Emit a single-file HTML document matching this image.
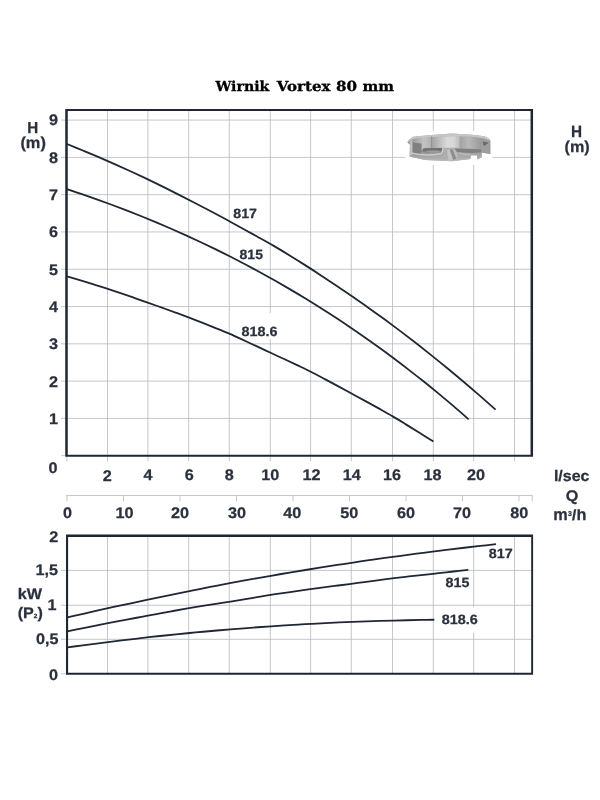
<!DOCTYPE html>
<html><head><meta charset="utf-8"><title>Wirnik Vortex 80 mm</title>
<style>html,body{margin:0;padding:0;background:#fff}svg{display:block}</style></head>
<body><svg width="600" height="800" viewBox="0 0 600 800">
<rect width="600" height="800" fill="#fff"/>
<path d="M107.50,110.2V461.40 M147.90,110.2V461.40 M188.70,110.2V461.40 M229.30,110.2V461.40 M270.30,110.2V461.40 M310.60,110.2V461.40 M351.30,110.2V461.40 M392.50,110.2V461.40 M433.30,110.2V461.40 M473.70,110.2V461.40 M514.50,110.2V461.40 M61.00,418.41H532.2 M61.00,381.12H532.2 M61.00,343.83H532.2 M61.00,306.54H532.2 M61.00,269.25H532.2 M61.00,231.96H532.2 M61.00,194.67H532.2 M61.00,157.38H532.2 M61.00,120.09H532.2 M66.80,455.6V461.40 M61.00,455.60H66.6 M107.50,535.6V673.8 M147.90,535.6V673.8 M188.70,535.6V673.8 M229.30,535.6V673.8 M270.30,535.6V673.8 M310.60,535.6V673.8 M351.30,535.6V673.8 M392.50,535.6V673.8 M433.30,535.6V673.8 M473.70,535.6V673.8 M514.50,535.6V673.8 M61.00,639.30H532.2 M61.00,605.30H532.2 M61.00,570.40H532.2 M61.00,673.80H66.6 M66.30,495.5H532.60 M67.00,495.4V501.3 M123.50,495.4V501.3 M180.00,495.4V501.3 M236.50,495.4V501.3 M293.00,495.4V501.3 M349.50,495.4V501.3 M406.00,495.4V501.3 M462.50,495.4V501.3 M519.00,495.4V501.3 M532.20,495.4V501.3" fill="none" stroke="#b6b9bf" stroke-width="0.8"/>
<rect x="240" y="313" width="39.5" height="26" fill="#fff"/>
<rect x="440" y="607.5" width="39.5" height="25" fill="#fff"/>
<rect x="405.5" y="130.8" width="87" height="34.2" fill="#fff"/>
<defs>
<linearGradient id="gBase" x1="0" y1="0" x2="1" y2="0"><stop offset="0" stop-color="#9a9a9a"/><stop offset="0.5" stop-color="#b0b0b0"/><stop offset="1" stop-color="#9c9c9c"/></linearGradient>
<linearGradient id="gP1" x1="0" y1="0" x2="1" y2="0"><stop offset="0" stop-color="#9c9c9c"/><stop offset="0.6" stop-color="#c4c4c4"/><stop offset="1" stop-color="#b2b2b2"/></linearGradient>
<linearGradient id="gP2" x1="0" y1="0" x2="1" y2="0"><stop offset="0" stop-color="#a2a2a2"/><stop offset="0.55" stop-color="#dadada"/><stop offset="0.8" stop-color="#d6d6d6"/><stop offset="1" stop-color="#bcbcbc"/></linearGradient>
<linearGradient id="gP3" x1="0" y1="0" x2="1" y2="0"><stop offset="0" stop-color="#a4a4a4"/><stop offset="0.4" stop-color="#b9b9b9"/><stop offset="1" stop-color="#999"/></linearGradient>
<linearGradient id="gRec" x1="0" y1="0" x2="0" y2="1"><stop offset="0" stop-color="#666"/><stop offset="1" stop-color="#8e8e8e"/></linearGradient>
<linearGradient id="gBot" x1="0" y1="0" x2="0" y2="1"><stop offset="0" stop-color="#a2a2a2"/><stop offset="1" stop-color="#bdbdbd"/></linearGradient>
<filter id="fBl" x="-5%" y="-10%" width="110%" height="120%"><feGaussianBlur stdDeviation="0.35"/></filter>
</defs>
<g filter="url(#fBl)">
<path d="M408.25,140.50 L412.83,136.75 L431.17,135.08 L452.00,133.42 L472.00,134.67 L484.50,136.33 L489.92,139.25 L490.50,141.33 L490.33,154.00 L481.83,152.67 L481.58,157.17 L477.42,159.25 L477.00,155.50 L471.17,155.50 L470.33,159.00 L452.00,161.33 L447.00,160.92 L425.33,160.08 L410.33,156.75 L409.50,156.33 L409.92,144.67 L407.42,142.58Z" fill="url(#gBase)"/>
<path d="M408.25,140.50 L412.83,136.75 L431.17,135.08 L452.00,133.42 L472.00,134.67 L484.50,136.33 L489.92,139.25 L489.92,140.67 L484.50,138.42 L472.00,136.83 L452.00,136.17 L431.17,137.17 L412.83,139.00 L408.67,142.00Z" fill="#c6c6c6"/>
<path d="M410.17,141.75 L412.42,139.67 L412.42,155.08 L410.17,155.92Z" fill="#c2c2c2"/>
<path d="M412.67,142.33 L421.67,143.50 L421.67,152.33 L419.92,153.42 L412.67,154.00Z" fill="#808080"/>
<path d="M412.83,139.00 L431.17,137.17 L431.17,148.00 L423.83,148.50 L421.67,150.50 L421.67,143.50 L412.83,142.33Z" fill="url(#gP1)"/>
<path d="M431.08,136.33 L431.75,136.33 L431.75,148.00 L431.08,148.00Z" fill="#858585"/>
<path d="M431.83,137.17 L452.00,136.17 L459.50,136.33 L459.50,147.67 L447.00,147.67 L431.83,147.83Z" fill="url(#gP2)"/>
<path d="M460.00,136.83 L472.00,137.00 L481.17,138.50 L481.17,149.00 L460.00,148.50Z" fill="url(#gP3)"/>
<path d="M481.17,138.50 L489.92,140.67 L490.33,154.00 L481.58,152.33Z" fill="#9d9d9d"/>
<path d="M482.83,141.58 L488.83,142.83 L483.67,146.33Z" fill="#6a6a6a"/>
<path d="M423.83,148.25 L441.83,148.00 Q443.00,150.92 441.17,153.00 Q432.00,154.50 422.42,152.17 Q421.58,149.83 423.83,148.25Z" fill="url(#gRec)"/>
<ellipse cx="433.25" cy="151.67" rx="7.08" ry="1.17" fill="#9c9c9c"/>
<path d="M411.17,152.83 Q427.00,157.17 440.75,153.42 Q443.25,151.75 442.83,148.42" fill="none" stroke="#cfcfcf" stroke-width="1.3"/>
<path d="M409.92,155.67 L425.33,157.33 L452.00,157.83 L470.33,156.75 L470.33,159.00 L452.00,161.33 L447.00,160.92 L425.33,160.08 L410.33,156.75Z" fill="url(#gBot)"/>
<path d="M454.92,148.50 L481.17,149.17 L481.17,152.33 L472.00,153.00 L455.33,152.17Z" fill="#808080"/>
<path d="M458.67,152.67 Q464.50,155.08 471.17,154.83" fill="none" stroke="#b9b9b9" stroke-width="1.4"/>
<path d="M447.00,150.33 L449.50,149.83 L452.83,159.67 L448.67,160.50Z" fill="#c4c4c4"/>
<path d="M449.92,149.83 L452.83,149.83 L456.17,159.00 L453.25,159.67Z" fill="#8c8c8c"/>
<path d="M453.25,149.83 L455.33,149.67 L457.42,153.00 L457.00,158.83Z" fill="#bdbdbd"/>
<path d="M477.00,154.50 L481.58,153.00 L481.58,157.17 L477.42,159.25Z" fill="#a9a9a9"/>
</g>
<path d="M67.00,144.02C69.65,145.10 77.58,148.31 82.87,150.51C88.17,152.71 93.46,154.93 98.75,157.19C104.04,159.46 109.33,161.76 114.62,164.11C119.91,166.46 125.20,168.85 130.50,171.28C135.79,173.71 141.08,176.15 146.37,178.66C151.66,181.18 156.95,183.76 162.24,186.37C167.54,188.99 172.83,191.65 178.12,194.33C183.41,197.01 188.70,199.74 193.99,202.47C199.28,205.21 204.58,207.96 209.87,210.76C215.16,213.57 220.45,216.44 225.74,219.30C231.03,222.17 236.32,225.06 241.61,227.96C246.91,230.86 252.20,233.76 257.49,236.70C262.78,239.64 268.07,242.54 273.36,245.63C278.65,248.72 283.95,251.98 289.24,255.23C294.53,258.48 299.82,261.77 305.11,265.13C310.40,268.48 315.69,271.90 320.99,275.38C326.28,278.85 331.57,282.39 336.86,285.97C342.15,289.54 347.44,293.19 352.73,296.85C358.02,300.51 363.32,304.17 368.61,307.92C373.90,311.67 379.19,315.47 384.48,319.33C389.77,323.20 395.06,327.13 400.36,331.12C405.65,335.12 410.94,339.18 416.23,343.30C421.52,347.42 426.81,351.60 432.10,355.84C437.40,360.08 442.69,364.37 447.98,368.74C453.27,373.10 458.56,377.52 463.85,382.01C469.14,386.50 474.43,391.05 479.73,395.66C485.02,400.28 492.95,407.36 495.60,409.70" fill="none" stroke="#1f2733" stroke-width="1.8" stroke-linecap="butt"/>
<path d="M67.00,189.14C69.48,189.97 76.92,192.44 81.88,194.14C86.84,195.84 91.80,197.57 96.76,199.34C101.71,201.11 106.67,202.91 111.63,204.76C116.59,206.60 121.55,208.48 126.51,210.40C131.47,212.32 136.43,214.28 141.39,216.27C146.35,218.27 151.31,220.31 156.27,222.38C161.23,224.46 166.19,226.58 171.14,228.74C176.10,230.90 181.06,233.11 186.02,235.35C190.98,237.60 195.94,239.89 200.90,242.23C205.86,244.56 210.82,246.94 215.78,249.37C220.74,251.79 225.70,254.27 230.66,256.79C235.61,259.31 240.57,261.87 245.53,264.49C250.49,267.10 255.45,269.77 260.41,272.48C265.37,275.20 270.33,277.96 275.29,280.77C280.25,283.59 285.21,286.45 290.17,289.37C295.13,292.29 300.09,295.26 305.04,298.29C310.00,301.31 314.96,304.39 319.92,307.52C324.88,310.66 329.84,313.84 334.80,317.09C339.76,320.33 344.72,323.63 349.68,326.99C354.64,330.35 359.60,333.76 364.56,337.24C369.51,340.71 374.47,344.24 379.43,347.84C384.39,351.43 389.35,355.08 394.31,358.79C399.27,362.51 404.23,366.28 409.19,370.12C414.15,373.96 419.11,377.86 424.07,381.82C429.03,385.79 433.99,389.80 438.94,393.90C443.90,398.01 448.86,402.18 453.82,406.42C458.78,410.66 466.22,417.19 468.70,419.35" fill="none" stroke="#1f2733" stroke-width="1.8" stroke-linecap="butt"/>
<path d="M67.00,276.37C69.26,277.04 76.05,279.01 80.57,280.38C85.09,281.74 89.62,283.13 94.14,284.55C98.66,285.97 103.19,287.42 107.71,288.89C112.23,290.37 116.76,291.87 121.28,293.40C125.80,294.93 130.33,296.49 134.85,298.07C139.38,299.66 143.90,301.32 148.42,302.92C152.95,304.52 157.47,306.06 161.99,307.66C166.52,309.26 171.04,310.88 175.56,312.54C180.09,314.19 184.61,315.86 189.13,317.58C193.66,319.30 198.18,321.08 202.70,322.87C207.23,324.66 211.75,326.48 216.27,328.33C220.80,330.17 225.32,331.99 229.84,333.95C234.37,335.91 238.89,338.03 243.41,340.10C247.94,342.18 252.46,344.27 256.99,346.39C261.51,348.51 266.03,350.70 270.56,352.81C275.08,354.92 279.60,356.94 284.13,359.04C288.65,361.14 293.17,363.26 297.70,365.42C302.22,367.58 306.74,369.70 311.27,371.98C315.79,374.26 320.31,376.70 324.84,379.10C329.36,381.50 333.88,383.94 338.41,386.39C342.93,388.84 347.45,391.34 351.98,393.80C356.50,396.26 361.02,398.67 365.55,401.15C370.07,403.62 374.60,406.12 379.12,408.66C383.64,411.19 388.17,413.69 392.69,416.35C397.21,419.01 401.74,421.83 406.26,424.61C410.78,427.39 415.31,430.19 419.83,433.02C424.35,435.86 431.14,440.18 433.40,441.61" fill="none" stroke="#1f2733" stroke-width="1.8" stroke-linecap="butt"/>
<path d="M67.30,617.46C69.95,616.85 77.89,615.01 83.18,613.80C88.47,612.60 93.76,611.40 99.06,610.22C104.35,609.04 109.64,607.87 114.93,606.72C120.23,605.56 125.52,604.42 130.81,603.29C136.10,602.16 141.40,601.05 146.69,599.94C151.98,598.82 157.27,597.70 162.57,596.60C167.86,595.49 173.15,594.40 178.44,593.32C183.74,592.23 189.03,591.17 194.32,590.11C199.61,589.05 204.91,588.01 210.20,586.98C215.49,585.95 220.79,584.93 226.08,583.93C231.37,582.92 236.66,581.92 241.96,580.94C247.25,579.97 252.54,579.01 257.83,578.07C263.13,577.13 268.42,576.21 273.71,575.30C279.00,574.39 284.30,573.49 289.59,572.61C294.88,571.72 300.17,570.85 305.47,569.99C310.76,569.13 316.05,568.28 321.34,567.44C326.64,566.60 331.93,565.78 337.22,564.97C342.51,564.15 347.81,563.35 353.10,562.56C358.39,561.78 363.69,561.00 368.98,560.23C374.27,559.47 379.56,558.72 384.86,557.98C390.15,557.24 395.44,556.51 400.73,555.79C406.03,555.08 411.32,554.37 416.61,553.68C421.90,552.99 427.20,552.30 432.49,551.64C437.78,550.97 443.07,550.31 448.37,549.66C453.66,549.02 458.95,548.38 464.24,547.76C469.54,547.14 474.83,546.53 480.12,545.93C485.41,545.33 493.35,544.46 496.00,544.17" fill="none" stroke="#1f2733" stroke-width="1.8" stroke-linecap="butt"/>
<path d="M67.30,631.44C69.78,630.92 77.20,629.33 82.15,628.30C87.10,627.27 92.05,626.25 97.00,625.26C101.95,624.26 106.90,623.28 111.86,622.33C116.81,621.38 121.76,620.46 126.71,619.55C131.66,618.63 136.61,617.75 141.56,616.85C146.51,615.94 151.46,615.04 156.41,614.12C161.36,613.20 166.31,612.25 171.26,611.34C176.21,610.42 181.16,609.49 186.11,608.63C191.07,607.77 196.02,606.97 200.97,606.17C205.92,605.37 210.87,604.60 215.82,603.83C220.77,603.06 225.72,602.34 230.67,601.55C235.62,600.77 240.57,599.92 245.52,599.10C250.47,598.28 255.42,597.43 260.37,596.62C265.32,595.81 270.28,594.99 275.23,594.23C280.18,593.47 285.13,592.77 290.08,592.05C295.03,591.34 299.98,590.63 304.93,589.94C309.88,589.25 314.83,588.57 319.78,587.91C324.73,587.25 329.68,586.60 334.63,585.96C339.58,585.32 344.53,584.72 349.49,584.07C354.44,583.41 359.39,582.70 364.34,582.03C369.29,581.36 374.24,580.69 379.19,580.04C384.14,579.39 389.09,578.72 394.04,578.12C398.99,577.52 403.94,576.99 408.89,576.44C413.84,575.89 418.79,575.36 423.74,574.82C428.70,574.28 433.65,573.75 438.60,573.19C443.55,572.64 448.50,572.05 453.45,571.50C458.40,570.94 465.82,570.13 468.30,569.85" fill="none" stroke="#1f2733" stroke-width="1.8" stroke-linecap="butt"/>
<path d="M67.30,647.44C69.57,647.13 76.36,646.19 80.89,645.58C85.42,644.97 89.95,644.37 94.49,643.78C99.02,643.19 103.55,642.61 108.08,642.04C112.61,641.48 117.14,640.92 121.67,640.37C126.20,639.83 130.73,639.29 135.26,638.77C139.79,638.25 144.32,637.73 148.86,637.23C153.39,636.73 157.92,636.24 162.45,635.76C166.98,635.28 171.51,634.81 176.04,634.35C180.57,633.89 185.10,633.44 189.63,633.01C194.16,632.57 198.70,632.14 203.23,631.73C207.76,631.31 212.29,630.91 216.82,630.51C221.35,630.12 225.88,629.74 230.41,629.36C234.94,628.99 239.47,628.63 244.00,628.28C248.53,627.93 253.07,627.59 257.60,627.26C262.13,626.93 266.66,626.61 271.19,626.30C275.72,625.99 280.25,625.69 284.78,625.41C289.31,625.12 293.84,624.84 298.37,624.58C302.90,624.31 307.44,624.06 311.97,623.81C316.50,623.57 321.03,623.33 325.56,623.11C330.09,622.89 334.62,622.68 339.15,622.47C343.68,622.27 348.21,622.08 352.74,621.90C357.28,621.72 361.81,621.55 366.34,621.39C370.87,621.23 375.40,621.08 379.93,620.94C384.46,620.80 388.99,620.67 393.52,620.55C398.05,620.44 402.58,620.33 407.11,620.23C411.65,620.13 416.18,620.05 420.71,619.97C425.24,619.89 432.03,619.81 434.30,619.77" fill="none" stroke="#1f2733" stroke-width="1.8" stroke-linecap="butt"/>
<path fill-rule="evenodd" fill="#1f2733" d="M65.25,109.0H533.05V456.85H65.25Z M67.75,111.0H530.55V454.85H67.75Z"/>
<path fill-rule="evenodd" fill="#1f2733" d="M66.0,534.5H533.1V674.85H66.0Z M68.1,536.9H531.2V672.75H68.1Z"/>
<text transform="translate(215.44,90.80) scale(1.0266,1)" font-family='"DejaVu Serif","Liberation Serif",serif' font-weight="bold" font-size="13.80" fill="#000" stroke="#000" stroke-width="0.3" text-rendering="geometricPrecision">Wirnik</text>
<text transform="translate(276.78,90.80) scale(1.0882,1)" font-family='"DejaVu Serif","Liberation Serif",serif' font-weight="bold" font-size="13.80" fill="#000" stroke="#000" stroke-width="0.3" text-rendering="geometricPrecision">Vortex</text>
<text transform="translate(335.90,90.80) scale(1.0989,1)" font-family='"DejaVu Serif","Liberation Serif",serif' font-weight="bold" font-size="13.80" fill="#000" stroke="#000" stroke-width="0.3" text-rendering="geometricPrecision">80</text>
<text transform="translate(362.38,90.80) scale(1.0812,1)" font-family='"DejaVu Serif","Liberation Serif",serif' font-weight="bold" font-size="13.80" fill="#000" stroke="#000" stroke-width="0.3" text-rendering="geometricPrecision">mm</text>
<text transform="translate(48.90,423.94) scale(1.0600,1)" font-family='"Liberation Sans",sans-serif' font-weight="bold" font-size="15.30" fill="#2a303c" stroke="#2a303c" stroke-width="0.25" text-rendering="geometricPrecision">1</text>
<text transform="translate(48.90,386.61) scale(1.0600,1)" font-family='"Liberation Sans",sans-serif' font-weight="bold" font-size="15.30" fill="#2a303c" stroke="#2a303c" stroke-width="0.25" text-rendering="geometricPrecision">2</text>
<text transform="translate(48.90,349.28) scale(1.0600,1)" font-family='"Liberation Sans",sans-serif' font-weight="bold" font-size="15.30" fill="#2a303c" stroke="#2a303c" stroke-width="0.25" text-rendering="geometricPrecision">3</text>
<text transform="translate(48.90,311.95) scale(1.0600,1)" font-family='"Liberation Sans",sans-serif' font-weight="bold" font-size="15.30" fill="#2a303c" stroke="#2a303c" stroke-width="0.25" text-rendering="geometricPrecision">4</text>
<text transform="translate(48.90,274.62) scale(1.0600,1)" font-family='"Liberation Sans",sans-serif' font-weight="bold" font-size="15.30" fill="#2a303c" stroke="#2a303c" stroke-width="0.25" text-rendering="geometricPrecision">5</text>
<text transform="translate(48.90,237.29) scale(1.0600,1)" font-family='"Liberation Sans",sans-serif' font-weight="bold" font-size="15.30" fill="#2a303c" stroke="#2a303c" stroke-width="0.25" text-rendering="geometricPrecision">6</text>
<text transform="translate(48.90,199.96) scale(1.0600,1)" font-family='"Liberation Sans",sans-serif' font-weight="bold" font-size="15.30" fill="#2a303c" stroke="#2a303c" stroke-width="0.25" text-rendering="geometricPrecision">7</text>
<text transform="translate(48.90,162.63) scale(1.0600,1)" font-family='"Liberation Sans",sans-serif' font-weight="bold" font-size="15.30" fill="#2a303c" stroke="#2a303c" stroke-width="0.25" text-rendering="geometricPrecision">8</text>
<text transform="translate(48.90,125.30) scale(1.0600,1)" font-family='"Liberation Sans",sans-serif' font-weight="bold" font-size="15.30" fill="#2a303c" stroke="#2a303c" stroke-width="0.25" text-rendering="geometricPrecision">9</text>
<text transform="translate(48.50,473.00) scale(1.0600,1)" font-family='"Liberation Sans",sans-serif' font-weight="bold" font-size="15.30" fill="#2a303c" stroke="#2a303c" stroke-width="0.25" text-rendering="geometricPrecision">0</text>
<text transform="translate(102.74,480.80) scale(1.0600,1)" font-family='"Liberation Sans",sans-serif' font-weight="bold" font-size="15.30" fill="#2a303c" stroke="#2a303c" stroke-width="0.25" text-rendering="geometricPrecision">2</text>
<text transform="translate(143.52,479.70) scale(1.0600,1)" font-family='"Liberation Sans",sans-serif' font-weight="bold" font-size="15.30" fill="#2a303c" stroke="#2a303c" stroke-width="0.25" text-rendering="geometricPrecision">4</text>
<text transform="translate(184.68,479.70) scale(1.0600,1)" font-family='"Liberation Sans",sans-serif' font-weight="bold" font-size="15.30" fill="#2a303c" stroke="#2a303c" stroke-width="0.25" text-rendering="geometricPrecision">6</text>
<text transform="translate(224.68,479.70) scale(1.0600,1)" font-family='"Liberation Sans",sans-serif' font-weight="bold" font-size="15.30" fill="#2a303c" stroke="#2a303c" stroke-width="0.25" text-rendering="geometricPrecision">8</text>
<text transform="translate(261.32,479.70) scale(1.0600,1)" font-family='"Liberation Sans",sans-serif' font-weight="bold" font-size="15.30" fill="#2a303c" stroke="#2a303c" stroke-width="0.25" text-rendering="geometricPrecision">10</text>
<text transform="translate(302.42,479.70) scale(1.0600,1)" font-family='"Liberation Sans",sans-serif' font-weight="bold" font-size="15.30" fill="#2a303c" stroke="#2a303c" stroke-width="0.25" text-rendering="geometricPrecision">12</text>
<text transform="translate(342.63,479.70) scale(1.0600,1)" font-family='"Liberation Sans",sans-serif' font-weight="bold" font-size="15.30" fill="#2a303c" stroke="#2a303c" stroke-width="0.25" text-rendering="geometricPrecision">14</text>
<text transform="translate(382.98,479.70) scale(1.0600,1)" font-family='"Liberation Sans",sans-serif' font-weight="bold" font-size="15.30" fill="#2a303c" stroke="#2a303c" stroke-width="0.25" text-rendering="geometricPrecision">16</text>
<text transform="translate(423.54,479.70) scale(1.0600,1)" font-family='"Liberation Sans",sans-serif' font-weight="bold" font-size="15.30" fill="#2a303c" stroke="#2a303c" stroke-width="0.25" text-rendering="geometricPrecision">18</text>
<text transform="translate(466.94,479.70) scale(1.0600,1)" font-family='"Liberation Sans",sans-serif' font-weight="bold" font-size="15.30" fill="#2a303c" stroke="#2a303c" stroke-width="0.25" text-rendering="geometricPrecision">20</text>
<text transform="translate(63.00,518.00) scale(1.0600,1)" font-family='"Liberation Sans",sans-serif' font-weight="bold" font-size="15.30" fill="#2a303c" stroke="#2a303c" stroke-width="0.25" text-rendering="geometricPrecision">0</text>
<text transform="translate(115.47,518.00) scale(1.0600,1)" font-family='"Liberation Sans",sans-serif' font-weight="bold" font-size="15.30" fill="#2a303c" stroke="#2a303c" stroke-width="0.25" text-rendering="geometricPrecision">10</text>
<text transform="translate(171.04,518.00) scale(1.0600,1)" font-family='"Liberation Sans",sans-serif' font-weight="bold" font-size="15.30" fill="#2a303c" stroke="#2a303c" stroke-width="0.25" text-rendering="geometricPrecision">20</text>
<text transform="translate(228.04,518.00) scale(1.0600,1)" font-family='"Liberation Sans",sans-serif' font-weight="bold" font-size="15.30" fill="#2a303c" stroke="#2a303c" stroke-width="0.25" text-rendering="geometricPrecision">30</text>
<text transform="translate(283.20,518.00) scale(1.0600,1)" font-family='"Liberation Sans",sans-serif' font-weight="bold" font-size="15.30" fill="#2a303c" stroke="#2a303c" stroke-width="0.25" text-rendering="geometricPrecision">40</text>
<text transform="translate(340.28,518.00) scale(1.0600,1)" font-family='"Liberation Sans",sans-serif' font-weight="bold" font-size="15.30" fill="#2a303c" stroke="#2a303c" stroke-width="0.25" text-rendering="geometricPrecision">50</text>
<text transform="translate(397.02,518.00) scale(1.0600,1)" font-family='"Liberation Sans",sans-serif' font-weight="bold" font-size="15.30" fill="#2a303c" stroke="#2a303c" stroke-width="0.25" text-rendering="geometricPrecision">60</text>
<text transform="translate(452.88,518.00) scale(1.0600,1)" font-family='"Liberation Sans",sans-serif' font-weight="bold" font-size="15.30" fill="#2a303c" stroke="#2a303c" stroke-width="0.25" text-rendering="geometricPrecision">70</text>
<text transform="translate(510.16,518.00) scale(1.0600,1)" font-family='"Liberation Sans",sans-serif' font-weight="bold" font-size="15.30" fill="#2a303c" stroke="#2a303c" stroke-width="0.25" text-rendering="geometricPrecision">80</text>
<text transform="translate(49.35,541.50) scale(1.0600,1)" font-family='"Liberation Sans",sans-serif' font-weight="bold" font-size="15.30" fill="#2a303c" stroke="#2a303c" stroke-width="0.25" text-rendering="geometricPrecision">2</text>
<text transform="translate(35.50,574.62) scale(1.0600,1)" font-family='"Liberation Sans",sans-serif' font-weight="bold" font-size="15.30" fill="#2a303c" stroke="#2a303c" stroke-width="0.25" text-rendering="geometricPrecision">1,5</text>
<text transform="translate(47.45,609.75) scale(1.0600,1)" font-family='"Liberation Sans",sans-serif' font-weight="bold" font-size="15.30" fill="#2a303c" stroke="#2a303c" stroke-width="0.25" text-rendering="geometricPrecision">1</text>
<text transform="translate(36.00,643.77) scale(1.0600,1)" font-family='"Liberation Sans",sans-serif' font-weight="bold" font-size="15.30" fill="#2a303c" stroke="#2a303c" stroke-width="0.25" text-rendering="geometricPrecision">0,5</text>
<text transform="translate(48.95,680.40) scale(1.0600,1)" font-family='"Liberation Sans",sans-serif' font-weight="bold" font-size="15.30" fill="#2a303c" stroke="#2a303c" stroke-width="0.25" text-rendering="geometricPrecision">0</text>
<text transform="translate(27.16,133.00) scale(0.9550,1)" font-family='"Liberation Sans",sans-serif' font-weight="bold" font-size="15.90" fill="#2a303c" stroke="#2a303c" stroke-width="0.25" text-rendering="geometricPrecision">H</text>
<text transform="translate(20.42,147.90) scale(1.0300,1)" font-family='"Liberation Sans",sans-serif' font-weight="bold" font-size="15.90" fill="#2a303c" stroke="#2a303c" stroke-width="0.25" text-rendering="geometricPrecision">(m)</text>
<text transform="translate(571.06,137.30) scale(0.9400,1)" font-family='"Liberation Sans",sans-serif' font-weight="bold" font-size="16.30" fill="#2a303c" stroke="#2a303c" stroke-width="0.25" text-rendering="geometricPrecision">H</text>
<text transform="translate(564.49,151.70) scale(1.0200,1)" font-family='"Liberation Sans",sans-serif' font-weight="bold" font-size="15.90" fill="#2a303c" stroke="#2a303c" stroke-width="0.25" text-rendering="geometricPrecision">(m)</text>
<text transform="translate(553.89,480.90) scale(1.0450,1)" font-family='"Liberation Sans",sans-serif' font-weight="bold" font-size="15.30" fill="#2a303c" stroke="#2a303c" stroke-width="0.25" text-rendering="geometricPrecision">l/sec</text>
<text transform="translate(565.82,501.40) scale(1.0600,1)" font-family='"Liberation Sans",sans-serif' font-weight="bold" font-size="15.30" fill="#2a303c" stroke="#2a303c" stroke-width="0.25" text-rendering="geometricPrecision">Q</text>
<text transform="translate(17.79,599.30) scale(1.0600,1)" font-family='"Liberation Sans",sans-serif' font-weight="bold" font-size="15.30" fill="#2a303c" stroke="#2a303c" stroke-width="0.25" text-rendering="geometricPrecision">kW</text>
<text transform="translate(17.69,617.60) scale(1.0530,1)" font-family='"Liberation Sans",sans-serif' font-weight="bold" font-size="15.30" fill="#2a303c" stroke="#2a303c" stroke-width="0.25" text-rendering="geometricPrecision">(P<tspan font-size="6.2" dy="0.4">2</tspan><tspan dy="-0.4">)</tspan></text>
<clipPath id="ck"><rect x="540" y="509.2" width="60" height="20"/></clipPath>
<g clip-path="url(#ck)">
<text transform="translate(553.34,519.90) scale(0.9850,1)" font-family='"Liberation Sans",sans-serif' font-weight="bold" font-size="16.50" fill="#2a303c" stroke="#2a303c" stroke-width="0.25" text-rendering="geometricPrecision">m<tspan font-size="7" dx="0.3" dy="-3.6">3</tspan><tspan dy="3.6">/h</tspan></text>
</g>
<text transform="translate(233.34,218.20) scale(1.0591,1)" font-family='"Liberation Sans",sans-serif' font-weight="bold" font-size="13.40" fill="#2a303c" stroke="#2a303c" stroke-width="0.25" text-rendering="geometricPrecision">817</text>
<text transform="translate(239.54,259.30) scale(1.0492,1)" font-family='"Liberation Sans",sans-serif' font-weight="bold" font-size="13.40" fill="#2a303c" stroke="#2a303c" stroke-width="0.25" text-rendering="geometricPrecision">815</text>
<text transform="translate(241.53,336.30) scale(1.0727,1)" font-family='"Liberation Sans",sans-serif' font-weight="bold" font-size="13.40" fill="#2a303c" stroke="#2a303c" stroke-width="0.25" text-rendering="geometricPrecision">818.6</text>
<text transform="translate(488.73,557.80) scale(1.0684,1)" font-family='"Liberation Sans",sans-serif' font-weight="bold" font-size="13.40" fill="#2a303c" stroke="#2a303c" stroke-width="0.25" text-rendering="geometricPrecision">817</text>
<text transform="translate(445.53,587.00) scale(1.0678,1)" font-family='"Liberation Sans",sans-serif' font-weight="bold" font-size="13.40" fill="#2a303c" stroke="#2a303c" stroke-width="0.25" text-rendering="geometricPrecision">815</text>
<text transform="translate(441.83,624.20) scale(1.0727,1)" font-family='"Liberation Sans",sans-serif' font-weight="bold" font-size="13.40" fill="#2a303c" stroke="#2a303c" stroke-width="0.25" text-rendering="geometricPrecision">818.6</text>
</svg></body></html>
